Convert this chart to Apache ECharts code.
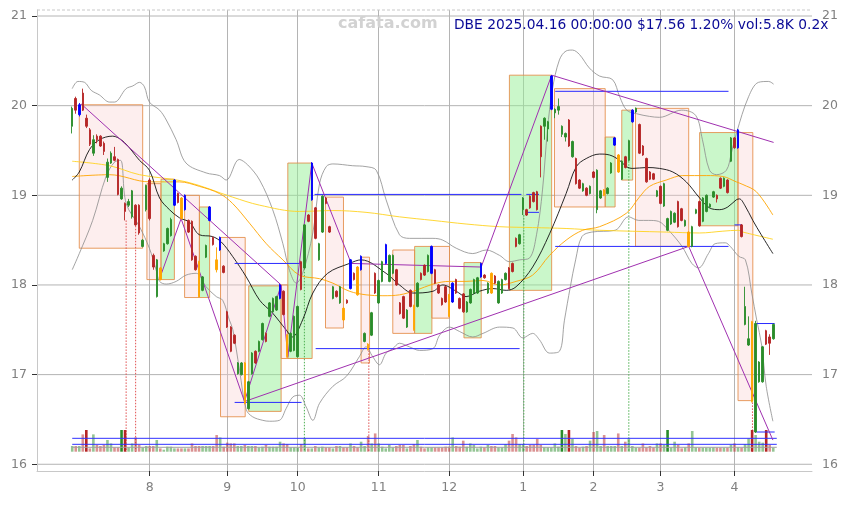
<!DOCTYPE html>
<html><head><meta charset="utf-8">
<script src="https://cdn.jsdelivr.net/npm/echarts@6.0.0/dist/echarts.min.js"></script>
<style>html,body{margin:0;padding:0;background:#fff;}#chart{width:849px;height:505px;}</style>
</head><body><div id="chart"></div>
<script>
// ---------- DATA ----------
const tradingDays = [
 ['2024-07',[1,2,3,5,8,9,10,11,12,15,16,17,18,19,22,23,24,25,26,29,30,31]],
 ['2024-08',[1,2,5,6,7,8,9,12,13,14,15,16,19,20,21,22,23,26,27,28,29,30]],
 ['2024-09',[3,4,5,6,9,10,11,12,13,16,17,18,19,20,23,24,25,26,27,30]],
 ['2024-10',[1,2,3,4,7,8,9,10,11,14,15,16,17,18,21,22,23,24,25,28,29,30,31]],
 ['2024-11',[1,4,5,6,7,8,11,12,13,14,15,18,19,20,21,22,25,26,27,29]],
 ['2024-12',[2,3,4,5,6,9,10,11,12,13,16,17,18,19,20,23,24,26,27,30,31]],
 ['2025-01',[2,3,6,7,8,10,13,14,15,16,17,21,22,23,24,27,28,29,30,31]],
 ['2025-02',[3,4,5,6,7,10,11,12,13,14,18,19,20,21,24,25,26,27,28]],
 ['2025-03',[3,4,5,6,7,10,11,12,13,14,17,18,19,20,21,24,25,26,27,28,31]],
 ['2025-04',[1,2,3,4,7,8,9,10,11,14,15,16]]
];
const opens = [19.77,20.08,19.90,20.14,19.86,19.73,19.47,19.66,19.66,19.58,
19.20,19.36,19.43,19.40,18.96,18.91,18.89,18.76,18.89,18.89,
18.43,18.84,19.17,18.33,17.87,18.19,18.38,18.46,18.55,18.89,
19.02,18.97,18.84,18.72,18.71,18.32,18.26,17.94,18.31,18.72,
18.53,18.28,18.39,18.21,17.70,17.53,17.44,17.01,17.00,17.13,
16.62,17.01,17.26,17.26,17.39,17.46,17.65,17.70,17.72,17.85,
17.93,17.44,17.26,17.27,17.20,18.26,18.19,18.78,18.95,18.86,
18.28,18.59,18.97,18.65,17.85,17.93,17.80,17.74,17.83,17.96,
18.13,18.20,18.17,17.37,17.34,17.44,18.13,17.80,18.04,18.24,
18.04,18.13,18.17,17.80,17.87,17.53,17.94,17.77,17.76,18.13,
18.22,18.15,18.13,18.17,18.00,17.85,17.98,17.89,17.81,18.06,
17.85,17.90,17.70,17.80,17.91,17.91,18.09,18.11,17.91,18.13,
18.10,17.80,17.91,18.06,18.19,18.24,18.52,18.46,18.84,18.84,
18.99,19.03,19.04,19.77,19.77,19.74,19.96,19.92,19.95,19.68,
19.65,19.84,19.43,19.41,19.17,19.05,19.08,19.02,19.26,18.84,
18.97,19.06,19.02,19.25,19.56,19.45,19.18,19.43,19.39,19.82,
19.93,19.79,19.55,19.41,19.26,19.24,18.99,19.10,18.88,18.61,
18.68,18.70,18.93,18.85,18.66,18.59,18.43,18.80,18.93,18.71,
18.82,18.87,18.98,19.00,19.19,19.10,19.17,19.38,19.64,19.53,
18.67,17.56,17.33,17.59,16.36,16.92,16.92,17.49,17.42,17.40];
const closes = [19.97,19.95,20.01,19.95,19.77,19.57,19.62,19.62,19.55,19.49,
19.37,19.47,19.39,19.01,19.08,18.82,18.93,19.05,18.67,18.58,
18.50,19.11,18.74,18.20,18.28,18.06,18.46,18.63,18.73,19.17,
18.92,18.74,19.00,18.59,18.28,18.17,17.87,18.09,18.44,18.87,
18.45,18.17,18.53,18.14,17.53,17.26,17.35,17.13,17.13,16.68,
16.92,17.24,17.13,17.37,17.57,17.37,17.80,17.85,17.87,18.00,
17.67,17.20,17.46,17.65,17.76,17.95,18.67,18.71,19.36,18.52,
18.46,18.99,18.91,18.59,17.98,17.87,17.98,17.61,17.80,18.28,
18.06,17.89,18.32,17.46,17.28,17.69,17.91,18.05,18.26,18.45,
18.33,18.33,18.00,17.68,17.63,17.72,17.76,17.50,18.02,18.06,
18.11,18.33,18.43,18.02,17.91,17.78,17.81,17.65,18.02,17.91,
17.74,17.70,17.81,17.95,18.06,18.08,18.24,18.08,18.02,17.91,
18.02,18.04,18.06,18.13,17.96,18.15,18.43,18.56,18.97,18.78,
18.86,18.93,18.84,19.43,19.86,19.82,20.33,19.96,19.99,19.77,
19.69,19.55,19.60,19.13,19.08,19.13,19.00,19.10,19.20,19.28,
19.05,19.00,19.08,19.36,19.64,19.26,19.38,19.31,19.61,19.95,
19.97,19.47,19.45,19.15,19.18,19.18,19.05,18.91,19.13,18.74,
18.82,18.80,18.65,18.72,18.72,18.43,18.65,18.84,18.66,18.97,
19.00,18.90,19.04,18.96,19.08,19.19,19.03,19.64,19.53,19.73,
18.54,17.76,17.40,16.70,17.57,17.14,17.31,17.34,17.35,17.56];
const lows = [19.69,19.91,19.88,19.94,19.75,19.55,19.44,19.58,19.54,19.45,
19.15,19.35,19.38,19.00,18.95,18.72,18.87,18.74,18.66,18.56,
18.42,18.82,18.72,18.17,17.86,18.05,18.37,18.45,18.54,18.88,
18.91,18.73,18.83,18.58,18.27,18.16,17.86,17.93,18.30,18.71,
18.44,18.14,18.38,18.13,17.52,17.25,17.34,17.00,16.99,16.67,
16.61,17.00,17.12,17.25,17.38,17.36,17.64,17.69,17.71,17.84,
17.66,17.19,17.25,17.26,17.19,17.94,18.18,18.70,18.94,18.51,
18.27,18.58,18.90,18.58,17.84,17.86,17.79,17.60,17.79,17.95,
18.05,17.88,18.16,17.36,17.27,17.43,17.90,17.79,18.03,18.23,
18.03,18.12,17.99,17.67,17.62,17.52,17.75,17.49,17.75,18.05,
18.10,18.14,18.12,18.01,17.90,17.77,17.80,17.64,17.80,17.90,
17.73,17.69,17.69,17.79,17.90,17.90,18.08,18.07,17.90,17.90,
18.01,17.79,17.90,18.05,17.95,18.14,18.42,18.45,18.78,18.77,
18.85,18.92,18.83,19.20,19.62,19.60,19.95,19.86,19.90,19.65,
19.60,19.54,19.42,19.12,19.07,19.04,18.99,19.01,19.19,18.80,
18.96,18.99,19.01,19.24,19.55,19.25,19.17,19.30,19.38,19.81,
19.92,19.46,19.44,19.14,19.17,19.17,18.98,18.90,18.87,18.60,
18.67,18.69,18.64,18.71,18.65,18.42,18.42,18.79,18.65,18.70,
18.81,18.86,18.97,18.92,19.07,19.09,19.02,19.37,19.52,19.52,
18.53,17.55,17.32,16.69,16.35,16.91,16.91,17.33,17.22,17.39];
const highs = [19.99,20.10,20.03,20.19,19.90,19.75,19.67,19.68,19.67,19.60,
19.41,19.49,19.54,19.41,19.10,18.92,18.96,19.06,18.90,18.90,
18.51,19.12,19.19,18.35,18.29,18.20,18.47,18.64,18.75,19.18,
19.03,18.98,19.01,18.73,18.72,18.33,18.27,18.10,18.45,18.88,
18.54,18.42,18.54,18.22,17.71,17.54,17.45,17.14,17.14,17.14,
16.93,17.25,17.27,17.38,17.58,17.47,17.81,17.86,17.88,18.01,
17.94,17.45,17.47,17.66,17.77,18.27,18.68,18.79,19.37,18.87,
18.47,19.00,18.98,18.66,17.99,17.94,17.99,17.75,17.84,18.29,
18.14,18.21,18.33,17.47,17.35,17.70,18.14,18.06,18.27,18.46,
18.34,18.34,18.18,17.81,17.88,17.73,17.95,17.78,18.03,18.14,
18.23,18.34,18.44,18.18,18.01,17.86,17.99,17.90,18.03,18.07,
17.86,17.91,17.82,17.96,18.07,18.09,18.25,18.12,18.03,18.14,
18.11,18.05,18.07,18.14,18.20,18.25,18.53,18.57,18.98,18.85,
19.00,19.04,19.05,19.78,19.87,19.83,20.34,19.97,20.08,19.78,
19.70,19.85,19.61,19.42,19.18,19.14,19.09,19.11,19.27,19.29,
19.06,19.07,19.09,19.37,19.65,19.46,19.39,19.44,19.62,19.96,
19.98,19.80,19.56,19.42,19.27,19.25,19.06,19.11,19.14,18.75,
18.83,18.81,18.94,18.86,18.73,18.60,18.66,18.85,18.94,18.98,
19.01,18.91,19.05,19.01,19.20,19.20,19.18,19.65,19.65,19.74,
18.68,17.98,17.65,17.60,17.60,17.15,17.32,17.50,17.45,17.57];
// volume in thousands
const volumes = [8.3,8.3,8.3,25.1,31.5,4.8,25.1,9.7,8.3,9.7,
17.0,12.0,6.2,6.2,31.5,31.5,6.2,12.0,20.7,9.7,
6.2,8.3,8.3,8.3,17.0,4.8,2.9,7.3,7.3,4.8,
4.8,4.8,4.8,4.8,12.0,8.3,8.3,8.3,8.3,8.3,
8.3,24.2,20.7,7.3,13.1,12.0,12.0,8.3,8.3,9.7,
8.3,8.3,8.3,6.2,7.3,9.7,7.3,7.3,7.3,14.5,
12.0,11.2,6.2,6.2,5.8,11.2,19.3,4.8,4.8,8.3,
6.2,7.3,6.2,6.2,4.8,8.3,8.3,6.2,6.2,12.0,
8.3,6.2,14.5,8.3,22.8,12.0,26.5,12.0,7.3,4.8,
9.7,6.2,8.3,9.7,9.7,4.8,8.3,11.2,17.0,7.3,
4.8,6.2,6.2,6.2,6.2,6.2,7.3,7.3,20.7,8.3,
7.3,16.0,7.3,12.0,9.7,4.8,7.3,6.2,9.7,8.3,
8.3,6.2,6.2,11.2,16.0,25.7,20.7,11.2,11.2,8.3,
9.7,9.7,18.4,9.7,6.2,6.2,6.2,12.0,7.3,31.5,
25.7,31.5,18.4,8.3,5.8,7.3,8.3,16.0,28.6,30.0,
8.3,24.2,8.3,8.3,8.3,26.5,8.3,14.5,19.3,8.3,
5.8,5.8,12.0,6.2,8.3,6.2,12.0,12.0,9.7,31.5,
6.2,14.5,9.7,4.8,6.2,12.0,30.0,6.2,5.8,5.8,
5.8,5.8,6.2,5.8,5.8,5.8,5.8,9.7,12.0,6.2,
5.8,11.2,19.3,31.5,24.2,14.5,13.1,31.5,9.7,5.8];
const pivotHighCandles = [2,29,32,39,42,59,68,79,82,89,102,108,116,136,154,159,189];
const pivotLowCandles = [25,31,36,41,49,61,77,81,84,97,107,119,151,155,175,193];
const priceTicks = [16,17,18,19,20,21];

// overlays: [dayIndex, price]
const maFast = [[0,19.17],[2,19.26],[4.9,19.51],[7.7,19.62],[11.4,19.66],[14.8,19.59],[19.1,19.39],[21.9,19.28],[24.8,18.97],[27.6,18.84],[30.4,18.75],[33.3,18.70],[36.1,18.56],[39.8,18.54],[42.3,18.48],[45.5,18.32],[49.4,18.09],[53.2,17.83],[56.8,17.69],[60.7,17.50],[62.5,17.42],[65.4,17.61],[68.3,17.91],[72.5,18.13],[78.7,18.24],[82,18.28],[89.1,18.13],[92.9,18.00],[96.7,17.91],[102.4,17.93],[105.2,18.00],[109,17.93],[111.8,17.87],[115.6,17.93],[119.4,17.96],[123.2,17.94],[126,17.98],[130.7,18.20],[135.5,18.57],[140.2,19.02],[143.1,19.32],[145.9,19.41],[149.7,19.46],[152.5,19.45],[155.4,19.39],[157.3,19.32],[159.1,19.30],[163,19.31],[166.7,19.30],[170.5,19.26],[174.3,19.15],[178.1,18.97],[180.9,18.86],[183.8,18.84],[186.1,18.87],[188.5,18.95],[189.4,18.96],[190.9,18.89],[193.2,18.72],[195.6,18.56],[198.9,18.35]];
const maMid = [[0,19.21],[10.6,19.23],[21.9,19.15],[30.4,19.15],[36.1,19.10],[41.8,19.02],[45.5,18.91],[50.3,18.69],[55.1,18.46],[59.8,18.28],[64.5,18.11],[70.2,18.07],[74,18.02],[78.7,17.93],[83.4,17.89],[88.2,17.88],[92.9,17.89],[97.6,17.94],[102.4,18.01],[107.1,18.04],[111.8,18.04],[116.6,18.05],[121.3,18.00],[126,18.04],[130.7,18.11],[135.5,18.33],[140.2,18.50],[144.9,18.61],[149.7,18.65],[157.3,18.80],[161,18.98],[163.9,19.10],[168.6,19.17],[173.3,19.22],[180,19.22],[184.7,19.21],[188.5,19.15],[190.4,19.12],[194.2,19.04],[198.9,18.78]];
const maSlow = [[0,19.38],[10.6,19.33],[19.1,19.23],[32.4,19.15],[45.5,18.98],[53.2,18.89],[64.5,18.82],[74,18.83],[83.4,18.81],[92.9,18.76],[102.4,18.72],[111.8,18.68],[121.3,18.65],[130.7,18.64],[140.2,18.63],[149.7,18.61],[168.6,18.59],[178.1,18.58],[184.7,18.60],[189,18.61],[190.4,18.59],[198.9,18.51]];
const bandUpper = [[0,20.19],[1.6,20.27],[3.5,20.26],[5.4,20.17],[7.7,20.12],[10.6,20.04],[12,20.04],[15.3,20.19],[17.2,20.22],[19.1,20.26],[20.5,20.21],[21.9,20.04],[24.8,19.95],[26.7,19.84],[29.5,19.62],[32.3,19.36],[38,19.25],[41.8,19.22],[43.7,19.17],[47.4,19.40],[49.8,19.34],[53.2,19.17],[56.9,18.84],[59.8,18.46],[61.7,18.16],[63.6,18.02],[65.4,18.13],[68.3,18.58],[70.2,19.13],[72.1,19.32],[74,19.35],[79.6,19.33],[83.4,19.32],[86.3,19.28],[89.1,18.95],[92.9,18.56],[95.7,18.52],[102.4,18.52],[105.2,18.50],[109,18.41],[113.7,18.35],[117.5,18.39],[121.3,18.33],[124.1,18.26],[127,18.28],[129.8,18.30],[131.8,18.56],[133.5,19.06],[134.9,19.73],[136.3,20.18],[138.3,20.51],[140.2,20.61],[142,20.62],[144,20.57],[146.8,20.42],[149.7,20.33],[153.4,20.29],[155.4,20.10],[157.4,19.95],[160.2,19.91],[163.9,19.88],[166.7,19.87],[173,19.95],[177,19.89],[178.9,19.62],[180.9,19.28],[182.9,19.23],[185.7,19.28],[187.1,19.47],[188.6,19.70],[192,20.10],[194.8,20.26],[197.7,20.27],[199.1,20.24]];
const bandLower = [[0,18.17],[2,18.35],[5.8,18.72],[9.6,19.21],[12,19.37],[13.7,19.39],[15.3,18.91],[19.1,18.65],[21.9,18.41],[23.8,18.17],[24.8,18.04],[26.7,18.01],[29.5,18.04],[32.3,18.11],[35.2,18.13],[38,17.98],[40.9,17.87],[42.7,17.83],[44.6,17.61],[45.6,17.50],[47.5,17.05],[49.4,16.61],[51.2,16.53],[54.1,16.49],[56,16.48],[58.8,16.49],[60.7,16.62],[62.6,16.75],[64.5,16.77],[66.4,16.64],[68.3,16.49],[70.2,16.68],[74,16.87],[77.8,16.98],[81.5,17.20],[83.4,17.31],[85.3,17.20],[87.2,17.11],[89.1,17.24],[91,17.29],[92.9,17.35],[95.7,17.31],[98.6,17.27],[102.4,17.29],[104.3,17.44],[107.1,17.53],[110,17.48],[113.7,17.42],[116.6,17.46],[121.3,17.53],[125.1,17.52],[127.9,17.41],[130.7,17.46],[132.6,17.39],[135.5,17.24],[138.3,17.26],[139.7,17.60],[141.4,17.98],[142.9,18.28],[144.7,18.54],[147.5,18.59],[154.1,18.61],[157.9,18.76],[160.8,18.72],[163.6,18.72],[166.4,18.71],[169.3,18.61],[173.1,18.43],[175.9,18.24],[177.8,18.19],[180.6,18.35],[182.5,18.46],[185.4,18.47],[186.8,18.43],[189.2,18.32],[191.1,18.28],[192.9,17.91],[194.3,17.61],[195.7,17.33],[197,16.87],[198.9,16.48]];
const zigzag = [[24.8,18.07],[30.9,18.74],[48.9,16.70],[59.3,18.00],[61.2,17.20],[68,19.36],[79.2,18.24],[116.1,18.20],[136.1,20.34]];
const trendLines = [[[2.5,20.02],[59.3,18.00]],[[48.9,16.70],[175,18.43]],[[136.1,20.34],[199.1,19.59]],[[175,18.43],[198.9,16.27]]];
// [fromDay, toDay, top, bottom, kind]
const zones = [[2.0,20.0,20.01,18.41,'down'],[21.2,25.2,19.13,18.06,'down'],[25.2,29.0,19.18,18.06,'up'],[31.9,36.1,19.00,17.86,'down'],[36.1,39.0,18.87,17.86,'up'],[42.1,49.1,18.53,16.53,'down'],[50.1,59.3,17.99,16.59,'up'],[59.3,61.2,18.00,17.18,'down'],[61.2,68.1,19.36,17.18,'up'],[71.9,77.0,18.98,17.52,'down'],[82.0,84.4,18.31,17.13,'down'],[91.0,97.2,18.39,17.46,'down'],[97.2,102.1,18.43,17.46,'up'],[102.1,107.1,18.43,17.63,'down'],[111.2,116.1,18.25,17.41,'up'],[124.1,136.1,20.34,17.94,'up'],[136.9,151.3,20.19,18.87,'down'],[151.3,154.1,19.65,18.87,'up'],[156.0,159.1,19.95,19.17,'up'],[159.9,175.0,19.97,18.43,'down'],[178.1,189.0,19.70,18.66,'up'],[189.0,193.2,19.70,16.71,'down']];
// [fromDay, toDay, price]
const levels = [[46.1,65.1,16.69],[46.1,65.1,18.24],[68.8,127.5,19.01],[128.9,132.5,19.01],[128.9,132.5,18.81],[69.1,127,17.29],[137.1,186.3,20.16],[137.1,186.3,18.43],[188,190.1,18.67],[194.2,199.4,17.57],[194.2,199.4,16.36]];
// [day, fromPrice, kind]
const signals = [[15.3,18.72,'sell'],[18,18.66,'sell'],[65.9,18.18,'buy'],[84.2,17.27,'sell'],[128.2,18.78,'buy'],[158,19.38,'buy'],[193.1,16.69,'sell']];
const signalBase = 16.14;
// volume average levels (thousands)
const volLevels = [[0,200,19.4,'a'],[0,200,10.7,'a'],[0,200,6.4,'b']];
const titleText = 'DBE 2025.04.16 00:00:00 $17.56 1.20% vol:5.8K 0.2x';

// ---------- BUILD ----------
const PAD_L = 10, PAD_R = 11;
const cats = [];
const monthStarts = new Set();
for (let k = 0; k < PAD_L; k++) cats.push('l' + k);
tradingDays.forEach(([ym, days], mi) => {
  days.forEach((d, di) => {
    if (di === 0 && mi > 0) monthStarts.add(cats.length);
    cats.push(ym + '-' + String(d).padStart(2, '0'));
  });
});
for (let k = 0; k < PAD_R; k++) cats.push('r' + k);
const showMonth = (idx) => monthStarts.has(idx);
const XMIN = -PAD_L, XMAX = cats.length - PAD_L - 1;
const YMIN = 15.925, YMAX = 21.067;

const UP = '#2a8c2a', DOWN = '#b52525', BLUE = '#0000ff', ORANGE = '#ffa500';
const hiSet = new Set(pivotHighCandles), loSet = new Set(pivotLowCandles);
const candleData = opens.map((o, i) => {
  const item = { value: [i, o, closes[i], lows[i], highs[i]] };
  const c = hiSet.has(i) ? BLUE : (loSet.has(i) ? ORANGE : null);
  if (c) item.itemStyle = { color: c, color0: c, borderColor: c, borderColor0: c };
  return item;
});
const volData = volumes.map((v, i) => {
  const up = closes[i] >= opens[i];
  const strong = v >= 31;
  const col = up ? (strong ? '#2a8c2a' : 'rgba(42,140,42,0.5)') : (strong ? '#b52525' : 'rgba(181,37,37,0.5)');
  return { value: [i, v], itemStyle: { color: col } };
});

function segRender(colorFn, dashFn, widthFn) {
  return function (params, api) {
    const p1 = api.coord([api.value(0), api.value(1)]);
    const p2 = api.coord([api.value(2), api.value(3)]);
    return { type: 'line', shape: { x1: p1[0], y1: p1[1], x2: p2[0], y2: p2[1] },
      style: { stroke: colorFn(params.dataIndex), lineWidth: widthFn ? widthFn(params.dataIndex) : 1, lineDash: dashFn ? dashFn(params.dataIndex) : null } };
  };
}
const lineSeries = (data, color, width, z, smooth) => ({
  type: 'line', xAxisIndex: 1, yAxisIndex: 0, data, showSymbol: false, symbol: 'none',
  smooth: smooth ? 0.35 : false, lineStyle: { color, width }, z, silent: true
});

const series = [];
series.push({ type: 'custom', xAxisIndex: 1, yAxisIndex: 0, z: 0, silent: true,
  data: priceTicks.map(v => [XMIN, v, XMAX, v]),
  renderItem: segRender(() => '#b4b4b4') });
series.push({ type: 'custom', xAxisIndex: 1, yAxisIndex: 0, z: 1, silent: true,
  data: zones.map(b => [b[0], b[1], b[2], b[3]]),
  renderItem: function (params, api) {
    const p1 = api.coord([api.value(0), api.value(2)]);
    const p2 = api.coord([api.value(1), api.value(3)]);
    const up = zones[params.dataIndex][4] === 'up';
    return { type: 'rect', shape: { x: p1[0], y: p1[1], width: p2[0] - p1[0], height: p2[1] - p1[1] },
      style: { fill: up ? 'rgba(150,240,150,0.5)' : 'rgba(250,205,205,0.35)', stroke: 'rgba(228,140,70,0.85)', lineWidth: 1 } };
  } });
series.push({ type: 'custom', xAxisIndex: 1, yAxisIndex: 0, z: 2, silent: true,
  data: signals.map(s => [s[0], s[1], s[0], signalBase]),
  renderItem: segRender(i => signals[i][2] === 'buy' ? '#4caf50' : '#e05050', () => [1.5, 1.5]) });
series.push(lineSeries(bandUpper, '#8c8c8c', 0.8, 3, true));
series.push(lineSeries(bandLower, '#8c8c8c', 0.8, 3, true));
series.push(lineSeries(maSlow, '#ffd21f', 0.9, 3, true));
series.push(lineSeries(maMid, '#ffa500', 0.9, 3, true));
series.push(lineSeries(maFast, '#111111', 0.9, 3, true));
series.push(lineSeries(zigzag, '#a030b0', 1, 4, false));
trendLines.forEach(t => series.push(lineSeries(t, '#a030b0', 1, 4, false)));
series.push({ type: 'custom', xAxisIndex: 1, yAxisIndex: 0, z: 4, silent: true,
  data: levels.map(l => [l[0], l[2], l[1], l[2]]),
  renderItem: segRender(() => '#2a2aff') });
series.push({ type: 'candlestick', xAxisIndex: 1, yAxisIndex: 0, z: 5, barWidth: 2,
  encode: { x: 0, y: [1, 2, 3, 4] }, data: candleData,
  itemStyle: { color: UP, color0: DOWN, borderColor: UP, borderColor0: DOWN, borderWidth: 0.9 } });
series.push({ type: 'bar', xAxisIndex: 2, yAxisIndex: 2, barWidth: 2.6, data: volData, z: 2 });
series.push({ type: 'custom', xAxisIndex: 2, yAxisIndex: 2, z: 3, silent: true,
  data: volLevels.map(l => [l[0], l[2], l[1], l[2]]),
  renderItem: segRender(i => volLevels[i][3] === 'a' ? '#3030ff' : '#a0a0a0') });

const labelStyle = { color: '#808080', fontSize: 12.5, fontFamily: 'DejaVu Sans' };
const option = {
  animation: false,
  backgroundColor: '#fff',
  grid: [
    { left: 37, right: 37, top: 10, bottom: 34 },
    { left: 37, right: 37, bottom: 53.3, height: 40 }
  ],
  xAxis: [
    { type: 'category', gridIndex: 0, data: cats, boundaryGap: false,
      axisLine: { show: true, onZero: false, lineStyle: { color: '#c8c8c8' } },
      axisTick: { show: true, interval: showMonth, length: 5, lineStyle: { color: '#333' } },
      axisLabel: Object.assign({ interval: showMonth, margin: 10, formatter: v => String(parseInt(v.slice(5, 7), 10)) }, labelStyle),
      splitLine: { show: true, interval: showMonth, lineStyle: { color: '#b4b4b4', width: 1 } } },
    { type: 'value', gridIndex: 0, min: XMIN, max: XMAX, show: false },
    { type: 'value', gridIndex: 1, min: XMIN, max: XMAX, show: false }
  ],
  yAxis: [
    { type: 'value', gridIndex: 0, min: YMIN, max: YMAX, position: 'left',
      axisLine: { show: true, onZero: false, lineStyle: { color: '#c8c8c8' } },
      axisTick: { show: true, length: 5, customValues: priceTicks, lineStyle: { color: '#333' } },
      axisLabel: Object.assign({ customValues: priceTicks, margin: 10 }, labelStyle),
      splitLine: { show: false } },
    { type: 'value', gridIndex: 0, min: YMIN, max: YMAX, position: 'right',
      axisLine: { show: false }, axisTick: { show: false },
      axisLabel: Object.assign({ customValues: priceTicks, margin: 10 }, labelStyle),
      splitLine: { show: false } },
    { type: 'value', gridIndex: 1, min: 0, max: 58, show: false }
  ],
  graphic: [
    { type: 'line', z: 10, shape: { x1: 37, y1: 10, x2: 812, y2: 10 }, style: { stroke: '#c8c8c8', lineDash: [3, 2], lineWidth: 1 } },
    { type: 'text', left: 338, top: 16, z: 10, style: { text: 'cafata.com', fill: '#d2d2d2', font: 'bold 16px "DejaVu Sans"' } },
    { type: 'text', left: 454, top: 18, z: 10, style: { text: titleText, fill: '#0a0a96', font: '13.8px "DejaVu Sans"' } }
  ],
  series
};
const chart = echarts.init(document.getElementById('chart'));
chart.setOption(option);
</script>
</body></html>
